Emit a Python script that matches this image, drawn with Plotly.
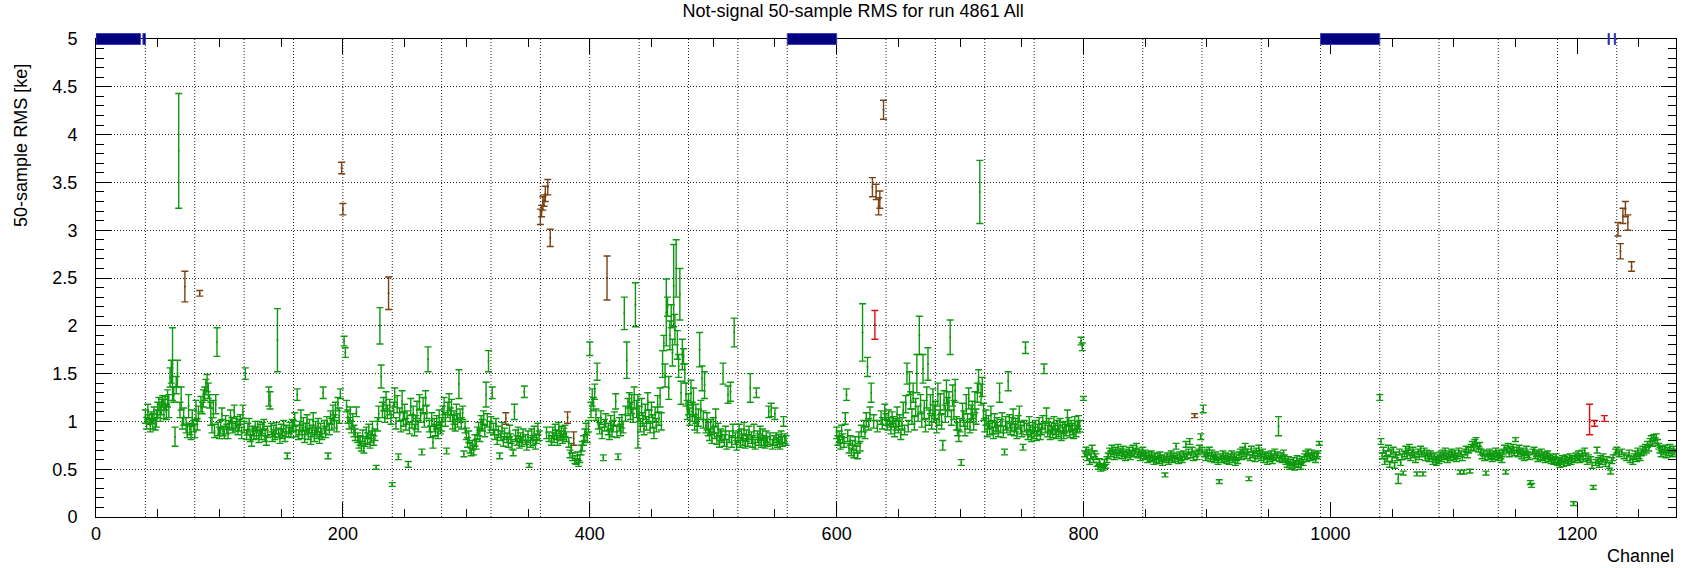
import plotly.graph_objects as go

# ---------------- data (values in units of 0.01 ke) ----------------
# channels 40..559
rms_a = [
    105, 98, 110, 102, 96, 104, 100, 108, 97, 103,
    112, 118, 109, 115, 121, 113, 119, 110, 124, 116,
    146, 152, 160, 128, 84, 138, 150, 383, 112, 124,
    98, 105, 241, 96, 90, 116, 92, 88, 104, 95,
    90, 112, 97, 108, 234, 118, 114, 124, 129, 136,
    140, 132, 121, 108, 96, 113, 90, 118, 183, 92,
    88, 94, 108, 90, 87, 100, 92, 88, 96, 105,
    98, 93, 110, 95, 99, 91, 96, 102, 88, 110,
    94, 150, 86, 92, 97, 84, 80, 90, 87, 95,
    88, 95, 83, 91, 86, 93, 97, 85, 80, 89,
    126, 122, 92, 84, 90, 86, 93, 185, 88, 82,
    91, 87, 95, 84, 90, 64, 89, 93, 88, 96,
    95, 102, 90, 128, 86, 93, 104, 88, 97, 84,
    92, 99, 87, 95, 82, 90, 101, 85, 93, 88,
    96, 83, 91, 87, 130, 94, 89, 98, 64, 92,
    104, 97, 109, 100, 112, 95, 118, 106, 129, 365,
    322, 184, 172, 116, 105, 98, 108, 94, 101, 90,
    86, 110, 83, 78, 80, 74, 85, 72, 79, 88,
    82, 90, 77, 84, 93, 80, 86, 52, 97, 108,
    200, 147, 112, 118, 105, 122, 110, 234, 115, 104,
    34, 112, 125, 98, 118, 63, 107, 95, 121, 102,
    110, 97, 104, 55, 93, 115, 100, 108, 91, 99,
    112, 95, 120, 106, 68, 117, 101, 124, 110, 165,
    95, 89, 102, 78, 96, 91, 99, 88, 104, 93,
    97, 108, 116, 102, 69, 112, 120, 107, 115, 99,
    104, 96, 110, 101, 139, 106, 98, 109, 66, 94,
    87, 78, 84, 72, 68, 75, 70, 80, 76, 88,
    92, 85, 99, 96, 104, 90, 128, 101, 163, 94,
    98, 130, 92, 86, 97, 81, 89, 64, 85, 93,
    79, 87, 103, 83, 78, 90, 82, 76, 67, 110,
    85, 80, 88, 77, 83, 79, 86, 131, 81, 75,
    84, 54, 78, 86, 80, 89, 76, 82, 92, 85,
    314, 320, 328, 331, 338, 88, 345, 84, 292, 80,
    88, 83, 91, 86, 80, 93, 85, 89, 82, 87,
    90, 84, 104, 78, 66, 72, 63, 82, 60, 58,
    64, 56, 61, 70, 74, 80, 86, 92, 83, 95,
    176, 112, 125, 118, 131, 107, 152, 98, 93, 104,
    88, 62, 96, 101, 250, 92, 86, 99, 90, 95,
    103, 121, 89, 63, 97, 91, 100, 94, 213, 108,
    164, 115, 122, 111, 118, 106, 125, 222, 113, 100,
    108, 96, 115, 102, 92, 110, 98, 121, 105, 94,
    112, 100, 88, 107, 96, 118, 103, 125, 100, 160,
    182, 148, 214, 220, 135, 190, 210, 172, 242, 196,
    260, 180, 158, 233, 130, 170, 168, 150, 128, 112,
    118, 105, 130, 110, 120, 99, 108, 96, 104, 175,
    112, 145, 102, 138, 95, 100, 92, 86, 94, 83,
    96, 88, 104, 82, 91, 79, 86, 84, 150, 80,
    88, 76, 128, 84, 131, 79, 90, 193, 82, 75,
    84, 90, 78, 86, 81, 92, 77, 85, 80, 88,
    135, 83, 79, 90, 76, 130, 84, 81, 88, 78,
    86, 80, 77, 84, 79, 110, 82, 112, 76, 80,
    108, 83, 78, 81, 76, 84, 79, 100, 82, 80,
]
err_a = [
    7, 6, 8, 5, 7, 6, 8, 7, 6, 9,
    8, 7, 9, 8, 6, 10, 7, 8, 9, 12,
    10, 12, 38, 8, 10, 9, 14, 60, 8, 12,
    6, 9, 16, 8, 7, 12, 6, 7, 8, 6,
    7, 10, 6, 8, 3, 8, 6, 9, 7, 8,
    9, 8, 7, 12, 8, 9, 7, 10, 15, 7,
    6, 7, 6, 5, 5, 6, 5, 6, 5, 7,
    6, 5, 7, 5, 6, 5, 6, 5, 6, 7,
    6, 6, 5, 6, 6, 5, 6, 5, 6, 5,
    6, 5, 5, 6, 5, 6, 5, 6, 5, 6,
    10, 9, 6, 5, 6, 5, 6, 33, 5, 5,
    6, 5, 6, 5, 6, 3, 5, 6, 5, 6,
    6, 7, 6, 6, 5, 7, 8, 6, 7, 6,
    6, 8, 6, 7, 6, 6, 8, 6, 7, 6,
    7, 6, 7, 6, 6, 7, 6, 7, 3, 6,
    7, 6, 8, 7, 8, 6, 7, 8, 5, 6,
    6, 5, 5, 6, 7, 6, 7, 6, 7, 6,
    6, 5, 5, 6, 5, 5, 6, 5, 5, 6,
    6, 7, 5, 6, 7, 5, 6, 2, 7, 8,
    19, 12, 8, 7, 6, 9, 7, 17, 8, 7,
    2, 8, 10, 6, 9, 3, 7, 6, 11, 7,
    8, 6, 7, 3, 6, 9, 7, 8, 6, 7,
    9, 6, 8, 7, 3, 8, 7, 8, 7, 13,
    6, 6, 7, 6, 7, 6, 7, 6, 8, 6,
    7, 8, 9, 7, 3, 8, 9, 7, 8, 7,
    7, 6, 8, 7, 15, 7, 6, 7, 3, 6,
    6, 5, 6, 5, 4, 5, 5, 6, 5, 6,
    7, 6, 7, 6, 7, 6, 13, 7, 11, 6,
    7, 6, 6, 5, 6, 5, 6, 3, 5, 6,
    5, 6, 6, 5, 5, 6, 5, 5, 3, 8,
    6, 5, 6, 5, 5, 5, 6, 6, 5, 5,
    6, 2, 5, 6, 5, 6, 5, 5, 6, 5,
    8, 6, 7, 6, 8, 6, 8, 5, 9, 5,
    6, 5, 6, 5, 5, 6, 5, 6, 5, 6,
    6, 5, 6, 5, 4, 5, 4, 7, 4, 3,
    4, 3, 4, 5, 5, 5, 6, 6, 5, 6,
    7, 8, 9, 7, 8, 6, 9, 6, 6, 7,
    6, 3, 6, 7, 23, 6, 5, 7, 6, 6,
    7, 8, 6, 3, 7, 6, 7, 6, 17, 8,
    19, 9, 8, 9, 10, 7, 11, 23, 9, 28,
    8, 7, 9, 7, 6, 8, 7, 9, 7, 6,
    8, 7, 6, 8, 7, 9, 7, 10, 9, 14,
    8, 12, 35, 10, 12, 15, 12, 14, 43, 16,
    30, 15, 12, 27, 12, 16, 8, 10, 12, 10,
    11, 9, 13, 10, 15, 8, 10, 8, 9, 18,
    10, 13, 9, 14, 7, 9, 7, 6, 8, 6,
    8, 6, 9, 6, 7, 6, 6, 6, 11, 6,
    7, 5, 9, 6, 10, 6, 7, 15, 6, 5,
    6, 7, 5, 6, 6, 7, 5, 6, 6, 7,
    15, 6, 6, 7, 5, 5, 6, 6, 7, 5,
    6, 5, 5, 6, 5, 6, 6, 7, 5, 5,
    6, 5, 5, 5, 5, 6, 5, 5, 5, 5,
]

# channels 600..991
rms_b = [
    88, 80, 84, 76, 90, 82, 78, 103, 128, 85,
    72, 80, 68, 75, 66, 79, 71, 64, 83, 74,
    90, 193, 95, 88, 102, 157, 97, 108, 130, 345,
    100, 201, 340, 95, 325, 332, 104, 98, 426, 110,
    102, 96, 106, 99, 92, 104, 100, 89, 97, 108,
    94, 101, 86, 98, 112, 91, 118, 150, 95, 140,
    122, 105, 130, 98, 115, 150, 108, 190, 118, 102,
    155, 112, 96, 125, 160, 104, 118, 99, 120, 108,
    112, 95, 128, 104, 118, 100, 75, 122, 108, 131,
    115, 121, 188, 104, 127, 112, 132, 98, 92, 85,
    96, 57, 110, 103, 92, 118, 100, 124, 95, 108,
    112, 99, 120, 105, 130, 142, 340, 128, 136, 110,
    96, 104, 90, 99, 92, 108, 94, 88, 101, 93,
    97, 90, 130, 95, 102, 89, 68, 98, 94, 142,
    100, 92, 97, 105, 91, 96, 88, 99, 108, 93,
    90, 73, 95, 177, 92, 86, 98, 90, 84, 93,
    88, 95, 85, 91, 97, 87, 92, 99, 155, 94,
    106, 90, 96, 86, 93, 89, 98, 92, 87, 95,
    90, 96, 85, 93, 88, 94, 91, 104, 97, 89,
    95, 92, 87, 98, 90, 94, 99, 95, 184, 178,
    124, 66, 70, 62, 68, 58, 64, 72, 60, 66,
    63, 55, 52, 58, 50, 54, 51, 57, 53, 60,
    64, 69, 66, 72, 68, 63, 70, 65, 73, 67,
    69, 64, 71, 66, 62, 68, 65, 70, 63, 67,
    72, 66, 69, 74, 65, 68, 62, 66, 70, 64,
    67, 63, 60, 65, 61, 66, 62, 58, 64, 60,
    63, 59, 65, 61, 57, 62, 44, 60, 64, 58,
    62, 66, 60, 64, 61, 74, 63, 59, 65, 62,
    60, 66, 63, 76, 64, 68, 79, 65, 70, 62,
    106, 66, 63, 68, 72, 84, 70, 113, 66, 62,
    68, 64, 70, 61, 67, 63, 60, 65, 62, 58,
    37, 63, 60, 66, 61, 64, 59, 63, 58, 62,
    66, 60, 64, 57, 62, 59, 65, 68, 63, 70,
    66, 74, 64, 68, 40, 62, 71, 65, 67, 61,
    69, 64, 72, 66, 62, 68, 60, 65, 63, 58,
    64, 61, 66, 59, 63, 68, 62, 65, 95, 61,
    64, 60, 67, 62, 58, 55, 60, 53, 57, 54,
    59, 52, 56, 61, 55, 58, 53, 60, 57, 63,
    66, 61, 68, 64, 62, 67, 63, 65, 60, 64,
    66, 77,
]
err_b = [
    6, 5, 6, 5, 6, 5, 5, 6, 6, 6,
    5, 5, 4, 5, 4, 5, 4, 3, 6, 5,
    6, 30, 6, 6, 7, 10, 6, 7, 10, 10,
    7, 15, 8, 6, 9, 9, 7, 6, 10, 8,
    6, 5, 6, 5, 5, 6, 5, 5, 6, 7,
    6, 6, 5, 6, 8, 5, 9, 11, 6, 12,
    9, 8, 10, 7, 9, 20, 8, 20, 10, 8,
    15, 10, 7, 11, 17, 8, 10, 7, 14, 9,
    9, 7, 12, 8, 11, 8, 5, 10, 9, 12,
    10, 10, 18, 8, 11, 10, 12, 7, 7, 6,
    7, 3, 9, 8, 7, 10, 8, 11, 7, 9,
    9, 8, 11, 8, 10, 12, 33, 11, 10, 9,
    7, 8, 6, 7, 6, 8, 7, 6, 7, 6,
    7, 6, 10, 7, 7, 6, 3, 7, 6, 10,
    7, 6, 7, 8, 6, 7, 6, 7, 8, 6,
    6, 3, 6, 6, 6, 5, 7, 6, 5, 6,
    6, 6, 5, 6, 7, 6, 6, 7, 5, 6,
    8, 6, 7, 5, 6, 6, 7, 6, 5, 6,
    6, 7, 5, 6, 6, 6, 6, 8, 7, 6,
    6, 6, 5, 7, 6, 6, 7, 6, 4, 4,
    2, 3, 3, 3, 3, 3, 3, 3, 3, 3,
    3, 2, 2, 3, 2, 2, 2, 3, 2, 3,
    3, 3, 3, 3, 3, 3, 3, 3, 3, 3,
    3, 3, 3, 3, 3, 3, 3, 3, 3, 3,
    3, 3, 3, 3, 3, 3, 3, 3, 3, 3,
    3, 3, 3, 3, 3, 3, 3, 3, 3, 3,
    3, 3, 3, 3, 3, 3, 2, 3, 3, 3,
    3, 3, 3, 3, 3, 3, 3, 3, 3, 3,
    3, 3, 3, 3, 3, 3, 3, 3, 3, 3,
    2, 3, 3, 3, 3, 3, 3, 4, 3, 3,
    3, 3, 3, 3, 3, 3, 3, 3, 3, 3,
    2, 3, 3, 3, 3, 3, 3, 3, 3, 3,
    3, 3, 3, 3, 3, 3, 3, 3, 3, 3,
    3, 3, 3, 3, 2, 3, 3, 3, 3, 3,
    3, 3, 3, 3, 3, 3, 3, 3, 3, 3,
    3, 3, 3, 3, 3, 3, 3, 3, 10, 3,
    3, 3, 3, 3, 3, 3, 3, 3, 3, 3,
    3, 3, 3, 3, 3, 3, 3, 3, 3, 3,
    3, 3, 3, 3, 3, 3, 3, 3, 3, 3,
    3, 2,
]

# channels 1040..1279 (1225 and 1230 are dead)
rms_c = [
    125, 79, 64, 70, 58, 66, 61, 72, 55, 68,
    60, 70, 54, 65, 62, 40, 68, 57, 63, 46,
    66, 71, 64, 69, 73, 62, 67, 70, 65, 60,
    45, 68, 63, 71, 66, 45, 69, 62, 67, 64,
    61, 66, 63, 58, 64, 60, 57, 62, 59, 65,
    61, 67, 63, 69, 64, 60, 66, 62, 68, 65,
    63, 67, 61, 64, 69, 47, 66, 62, 47, 68,
    71, 65, 70, 48, 73, 76, 72, 78, 80, 74,
    71, 75, 68, 64, 67, 62, 46, 66, 63, 68,
    64, 61, 66, 63, 69, 65, 62, 67, 64, 60,
    68, 72, 47, 70, 74, 66, 71, 69, 73, 67,
    81, 70, 66, 72, 68, 64, 69, 62, 67, 71,
    65, 63, 36, 33, 68, 70, 64, 66, 61, 67,
    63, 68, 62, 65, 60, 64, 66, 61, 63, 59,
    62, 58, 60, 63, 57, 59, 55, 58, 61, 56,
    60, 62, 57, 59, 63, 58, 61, 14, 60, 64,
    62, 66, 60, 63, 67, 61, 69, 64, 58, 62,
    102, 60, 54, 31, 98, 57, 70, 59, 55, 61,
    58, 63, 103, 56, 60, 54, 47, 59, 62,
    68, 70, 301, 66, 278, 68, 315, 64, 322,
    62, 308, 67, 60, 262, 58, 63, 66, 61, 69,
    64, 62, 67, 71, 68, 73, 70, 76, 72, 79,
    82, 77, 83, 80, 84, 78, 74, 70, 66, 71,
    68, 72, 65, 70, 67, 73, 69, 66, 71, 68,
]
err_c = [
    3, 3, 3, 3, 3, 3, 3, 3, 3, 3,
    3, 3, 3, 3, 3, 5, 3, 3, 3, 2,
    3, 3, 3, 3, 3, 3, 3, 3, 3, 3,
    2, 3, 3, 3, 3, 2, 3, 3, 3, 3,
    3, 3, 3, 3, 3, 3, 3, 3, 3, 3,
    3, 3, 3, 3, 3, 3, 3, 3, 3, 3,
    3, 3, 3, 3, 3, 2, 3, 3, 2, 3,
    3, 3, 3, 2, 3, 3, 3, 3, 3, 3,
    3, 3, 3, 3, 3, 3, 2, 3, 3, 3,
    3, 3, 3, 3, 3, 3, 3, 3, 3, 3,
    3, 3, 2, 3, 3, 3, 3, 3, 3, 3,
    2, 3, 3, 3, 3, 3, 3, 3, 3, 3,
    3, 3, 2, 2, 3, 3, 3, 3, 3, 3,
    3, 3, 3, 3, 3, 3, 3, 3, 3, 3,
    3, 3, 3, 3, 3, 3, 3, 3, 3, 3,
    3, 3, 3, 3, 3, 3, 3, 2, 3, 3,
    3, 3, 3, 3, 3, 3, 3, 3, 3, 3,
    16, 3, 3, 2, 3, 3, 3, 3, 3, 3,
    3, 3, 3, 3, 3, 3, 2, 3, 3,
    3, 3, 7, 3, 8, 3, 8, 3, 8,
    3, 8, 3, 3, 5, 3, 3, 3, 3, 3,
    3, 3, 3, 3, 3, 3, 3, 3, 3, 3,
    3, 3, 3, 3, 3, 3, 3, 3, 3, 3,
    3, 3, 3, 3, 3, 3, 3, 3, 3, 3,
]

brown_channels = [72, 84, 199, 200, 237, 332, 360, 361, 362, 363, 364, 366, 368,
                  382, 387, 414, 629, 632, 634, 635, 638, 890,
                  1233, 1235, 1237, 1239, 1241, 1244]
red_channels = [631, 1210, 1214, 1222]

# dead channel ranges [start, end)
dead_start = [0, 38, 560, 992, 1225, 1230]
dead_end = [36, 40, 600, 1040, 1226, 1231]

# vertical grid (plane boundaries)
grid_channels = [40, 80, 120, 160, 200, 240, 280, 320, 360, 400, 440, 480, 520,
                 560, 600, 640, 680, 720, 760, 800, 848, 896, 944, 992, 1040,
                 1088, 1136, 1184, 1232]

title_text = "Not-signal 50-sample RMS for run 4861 All"
x_title = "Channel"
y_title = "50-sample RMS [ke]"

# ---------------- assemble ----------------
channels_a = list(range(40, 560))
channels_b = list(range(600, 992))
channels_c = [c for c in range(1040, 1280) if c not in (1225, 1230)]
assert len(rms_a) == len(err_a) == len(channels_a), (len(rms_a), len(err_a))
assert len(rms_b) == len(err_b) == len(channels_b), (len(rms_b), len(err_b))
assert len(rms_c) == len(err_c) == len(channels_c), (len(rms_c), len(err_c))

channels = channels_a + channels_b + channels_c
rms = [v / 100 for v in rms_a + rms_b + rms_c]
err = [e / 100 for e in err_a + err_b + err_c]

groups = {"green": ([], [], []), "brown": ([], [], []), "red": ([], [], [])}
for c, v, e in zip(channels, rms, err):
    key = "brown" if c in brown_channels else ("red" if c in red_channels else "green")
    groups[key][0].append(c)
    groups[key][1].append(v)
    groups[key][2].append(e)

colors = {"green": "#0e990e", "brown": "#7a4212", "red": "#e01010"}

fig = go.Figure()
for key in ["green", "brown", "red"]:
    xs, ys, es = groups[key]
    fig.add_trace(go.Scatter(
        x=xs, y=ys, mode="markers",
        marker=dict(size=2, color=colors[key]),
        error_y=dict(type="data", array=es, visible=True, color=colors[key],
                     thickness=1.4, width=3.5),
        showlegend=False, hoverinfo="x+y",
    ))

shapes = []
for gx in grid_channels:
    shapes.append(dict(type="line", xref="x", yref="paper", x0=gx, x1=gx, y0=0, y1=1,
                       line=dict(color="#222222", width=1, dash="1px,2px"), layer="below"))
for s, e in zip(dead_start, dead_end):
    shapes.append(dict(type="rect", xref="x", yref="paper", x0=s, x1=e,
                       y0=1 - 0.0115, y1=1 + 0.0115,
                       fillcolor="#000080", line=dict(color="#4040c0", width=1),
                       layer="above"))

fig.update_layout(
    width=1696, height=568,
    margin=dict(l=96, r=20, t=39, b=51),
    paper_bgcolor="white", plot_bgcolor="white",
    showlegend=False,
    font=dict(family="Liberation Sans, Arial, sans-serif", size=18, color="black"),
    title=dict(text=title_text, x=0.503, xref="container", xanchor="center",
               y=0.981, yref="container", yanchor="middle",
               font=dict(size=18, color="black")),
    shapes=shapes,
    annotations=[
        dict(text=x_title, xref="paper", yref="paper", x=1, y=-0.082,
             xanchor="right", yanchor="middle", showarrow=False,
             font=dict(size=18)),
        dict(text=y_title, xref="paper", yref="paper", x=-0.0476, y=0.778,
             xanchor="center", yanchor="middle", textangle=-90, showarrow=False,
             font=dict(size=18)),
    ],
)
fig.update_xaxes(
    range=[0, 1280], tick0=0, dtick=200, ticks="inside", ticklen=15, tickwidth=1,
    tickcolor="black", minor=dict(dtick=50, ticklen=8, ticks="inside", tickcolor="black",
                                  tickwidth=1, showgrid=False),
    showline=True, linecolor="black", linewidth=1, mirror="allticks",
    showgrid=False, zeroline=False, tickfont=dict(size=18),
)
fig.update_yaxes(
    range=[0, 5], tick0=0, dtick=0.5, ticks="inside", ticklen=15, tickwidth=1,
    tickcolor="black", minor=dict(dtick=0.1, ticklen=8, ticks="inside", tickcolor="black",
                                  tickwidth=1, showgrid=False),
    showline=True, linecolor="black", linewidth=1, mirror="allticks",
    showgrid=True, gridcolor="#222222", gridwidth=1, griddash="1px,2px",
    zeroline=False, tickfont=dict(size=18), ticklabelstandoff=14,
)

fig.write_html("out.html")
